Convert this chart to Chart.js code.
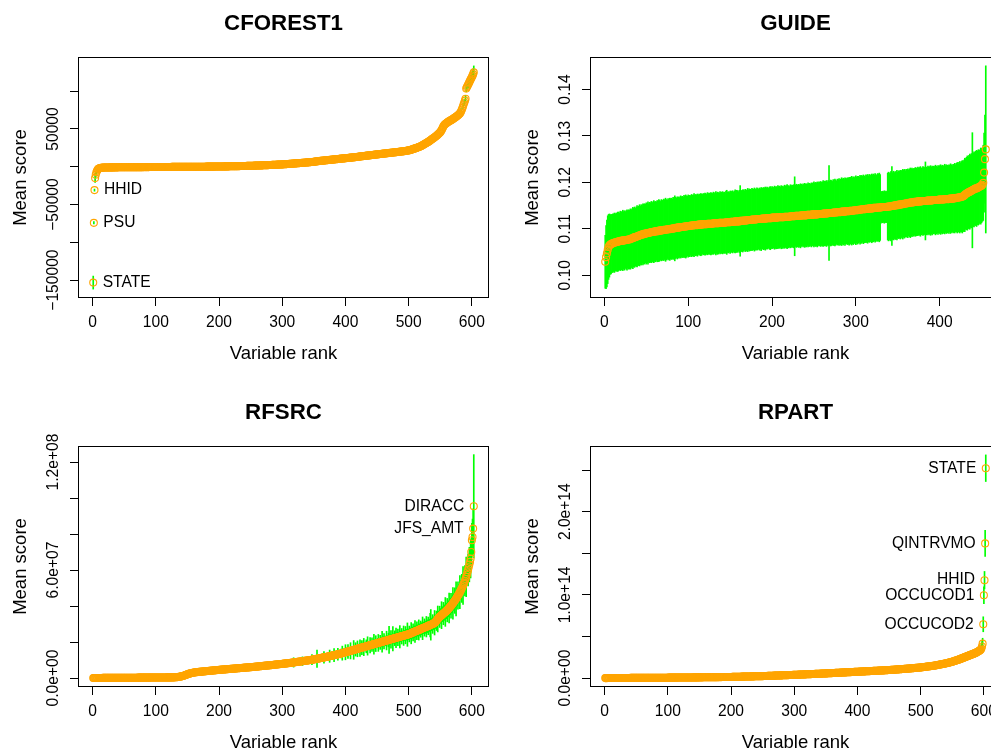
<!DOCTYPE html>
<html><head><meta charset="utf-8">
<script src="https://cdn.jsdelivr.net/npm/chart.js@4.4.1/dist/chart.umd.min.js"></script>
<style>
html,body{margin:0;padding:0;background:#fff;overflow:hidden;width:991px;height:750px;position:relative;}
canvas{position:absolute;}
</style></head><body>
<canvas id="c1" width="495" height="375" style="left:0;top:0"></canvas>
<canvas id="c2" width="495" height="375" style="left:512px;top:0"></canvas>
<canvas id="c3" width="495" height="375" style="left:0;top:389px"></canvas>
<canvas id="c4" width="495" height="375" style="left:512px;top:389px"></canvas>
<script>
// ---------------- DATA ----------------
// CFOREST1: mean score by variable rank (values in thousands)
const cforestMean = [
-153.3,-74.2,-30.9,-15,-10.6,-7.4,-5.3,-3.9,-2.8,-2.3,
-1.9,-1.65,-1.42,-1.31,-1.22,-1.16,-1.09,-1.05,-1.01,-.98,
-.96,-.95,-.93,-.91,-.89,-.88,-.87,-.86,-.84,-.83,
-.83,-.81,-.81,-.79,-.78,-.77,-.77,-.75,-.75,-.74,
-.73,-.72,-.72,-.71,-.7,-.69,-.68,-.68,-.67,-.66,
-.66,-.65,-.64,-.63,-.63,-.62,-.61,-.61,-.6,-.59,
-.58,-.58,-.57,-.56,-.56,-.55,-.54,-.54,-.53,-.52,
-.52,-.51,-.5,-.5,-.49,-.49,-.48,-.47,-.47,-.46,
-.46,-.45,-.44,-.44,-.43,-.43,-.42,-.41,-.41,-.4,
-.4,-.39,-.39,-.38,-.37,-.37,-.36,-.36,-.35,-.35,
-.34,-.34,-.33,-.32,-.32,-.31,-.31,-.3,-.3,-.29,
-.28,-.28,-.27,-.27,-.26,-.26,-.25,-.24,-.24,-.23,
-.23,-.22,-.22,-.21,-.2,-.2,-.19,-.19,-.18,-.18,
-.17,-.16,-.16,-.15,-.15,-.14,-.14,-.13,-.12,-.12,
-.11,-.11,-.1,-.1,-.09,-.08,-.08,-.07,-.07,-.06,
-.06,-.05,-.04,-.04,-.03,-.03,-.02,-.02,-.01,0,
.01,.01,.02,.02,.03,.04,.04,.05,.05,.06,
.07,.07,.08,.09,.09,.1,.11,.12,.12,.13,
.14,.15,.16,.17,.17,.18,.19,.2,.21,.22,
.23,.24,.25,.26,.27,.28,.29,.3,.31,.32,
.33,.35,.36,.38,.39,.41,.42,.44,.46,.47,
.49,.51,.52,.54,.56,.58,.6,.61,.63,.65,
.67,.69,.71,.73,.75,.77,.79,.81,.83,.85,
.87,.89,.91,.93,.95,.97,.99,1.01,1.03,1.05,
1.08,1.1,1.12,1.15,1.17,1.2,1.22,1.25,1.27,1.3,
1.33,1.36,1.39,1.42,1.45,1.48,1.51,1.54,1.57,1.6,
1.63,1.66,1.7,1.73,1.76,1.8,1.83,1.86,1.9,1.93,
1.97,2,2.04,2.07,2.11,2.15,2.18,2.22,2.26,2.3,
2.33,2.37,2.41,2.45,2.49,2.53,2.57,2.61,2.65,2.7,
2.74,2.78,2.82,2.87,2.91,2.95,3,3.04,3.09,3.13,
3.18,3.24,3.3,3.36,3.42,3.48,3.54,3.6,3.66,3.72,
3.79,3.85,3.91,3.98,4.04,4.11,4.17,4.24,4.3,4.37,
4.44,4.5,4.57,4.64,4.71,4.78,4.85,4.92,4.99,5.06,
5.13,5.2,5.28,5.35,5.42,5.5,5.57,5.64,5.72,5.79,
5.87,5.94,6.02,6.1,6.17,6.25,6.33,6.41,6.48,6.56,
6.7,6.85,7,7.12,7.25,7.35,7.45,7.55,7.65,7.75,
7.84,7.93,8.02,8.11,8.2,8.29,8.38,8.47,8.56,8.65,
8.74,8.83,8.92,9.01,9.1,9.19,9.28,9.37,9.46,9.55,
9.64,9.73,9.82,9.91,10,10.09,10.18,10.27,10.36,10.45,
10.54,10.63,10.72,10.81,10.9,10.99,11.08,11.17,11.26,11.35,
11.44,11.53,11.62,11.71,11.8,11.89,11.98,12.07,12.16,12.25,
12.34,12.43,12.52,12.61,12.7,12.79,12.88,12.97,13.06,13.15,
13.3,13.45,13.6,13.72,13.84,13.95,14.05,14.15,14.25,14.35,
14.45,14.55,14.65,14.75,14.85,14.95,15.05,15.15,15.25,15.35,
15.45,15.55,15.65,15.75,15.85,15.95,16.05,16.15,16.25,16.35,
16.45,16.55,16.65,16.75,16.85,16.95,17.05,17.15,17.25,17.35,
17.45,17.55,17.65,17.75,17.85,17.95,18.05,18.15,18.25,18.35,
18.45,18.55,18.65,18.75,18.85,18.95,19.05,19.15,19.25,19.35,
19.45,19.55,19.65,19.75,19.85,19.95,20.05,20.15,20.25,20.35,
20.45,20.55,20.65,20.8,20.95,21.1,21.25,21.4,21.55,21.7,
21.9,22.1,22.3,22.5,22.8,23.1,23.4,23.7,24,24.3,
24.6,24.9,25.2,25.5,25.8,26.1,26.4,26.7,27.1,27.5,
28,28.5,29,29.5,30,30.5,31,31.5,32,32.5,
33,33.6,34.2,34.8,35.4,36,36.6,37.2,37.8,38.4,
39,39.7,40.4,41.1,41.8,42.5,43.3,44.1,44.9,45.8,
47,48.5,50,51.8,53.5,54.8,55.8,56.6,57.3,57.9,
58.5,59.1,59.7,60.2,60.7,61.2,61.7,62.2,62.7,63.2,
63.8,64.4,65,65.6,66.2,66.8,67.5,68.2,68.9,69.7,
70.6,71.8,73.5,75.5,77.8,80.2,82.6,85,87.5,90,
103.5,105.2,106.9,108.6,110.3,112,113.7,115.4,117.1,118.8,
120.6,122.6,125];
const cforestErrRanks  = [1,2,3,4,5,6,7,8,555,570,580,583,586,588,590,591,592,594,595,597,598,600,601,602,603];
const cforestErrValues = [8.6,1.6,1.4,5.8,3.5,2.5,2,1.5,3,2.5,3,3.5,3.5,4,4.5,4,4,4.5,5,5,5.5,6,6.5,7,8.5];
const cforestLabelRanks = [1,2,3];
const cforestLabelNames = ['STATE','PSU','HHID'];

// GUIDE: mean score by variable rank
const guideMean = [
.1029,.1039,.1047,.1055,.1061,.1064,.1066,.1067,.1068,.1069,
.1070,.1070,.1071,.1071,.1072,.1072,.1073,.1073,.1074,.1074,
.1074,.1075,.1075,.1075,.1076,.1076,.1076,.1077,.1077,.1077,
.1078,.1079,.1079,.1080,.1081,.1082,.1082,.1083,.1084,.1084,
.1085,.1086,.1086,.1087,.1088,.1088,.1089,.1089,.1090,.1090,
.1091,.1091,.1091,.1092,.1092,.1093,.1093,.1093,.1094,.1094,
.1094,.1095,.1095,.1095,.1096,.1096,.1096,.1097,.1097,.1097,
.1098,.1098,.1098,.1098,.1099,.1099,.1099,.1099,.1100,.1100,
.1100,.1101,.1101,.1101,.1102,.1102,.1102,.1103,.1103,.1103,
.1104,.1104,.1104,.1104,.1105,.1105,.1105,.1105,.1106,.1106,
.1106,.1106,.1107,.1107,.1107,.1107,.1108,.1108,.1108,.1108,
.1108,.1109,.1109,.1109,.1109,.1109,.1110,.1110,.1110,.1110,
.1110,.1110,.1111,.1111,.1111,.1111,.1111,.1111,.1111,.1112,
.1112,.1112,.1112,.1112,.1112,.1112,.1113,.1113,.1113,.1113,
.1113,.1113,.1113,.1113,.1114,.1114,.1114,.1114,.1114,.1114,
.1115,.1115,.1115,.1115,.1115,.1116,.1116,.1116,.1116,.1116,
.1116,.1117,.1117,.1117,.1117,.1118,.1118,.1118,.1118,.1118,
.1119,.1119,.1119,.1119,.1119,.1120,.1120,.1120,.1120,.1120,
.1120,.1121,.1121,.1121,.1121,.1121,.1121,.1122,.1122,.1122,
.1122,.1122,.1122,.1123,.1123,.1123,.1123,.1123,.1123,.1124,
.1124,.1124,.1124,.1124,.1124,.1124,.1125,.1125,.1125,.1125,
.1125,.1125,.1125,.1125,.1126,.1126,.1126,.1126,.1126,.1126,
.1126,.1127,.1127,.1127,.1127,.1127,.1127,.1128,.1128,.1128,
.1128,.1128,.1128,.1128,.1129,.1129,.1129,.1129,.1129,.1129,
.1129,.1130,.1130,.1130,.1130,.1130,.1130,.1131,.1131,.1131,
.1131,.1131,.1131,.1131,.1132,.1132,.1132,.1132,.1132,.1132,
.1133,.1133,.1133,.1133,.1133,.1133,.1134,.1134,.1134,.1134,
.1134,.1134,.1135,.1135,.1135,.1135,.1135,.1136,.1136,.1136,
.1136,.1136,.1137,.1137,.1137,.1137,.1137,.1138,.1138,.1138,
.1138,.1138,.1139,.1139,.1139,.1139,.1139,.1140,.1140,.1140,
.1140,.1140,.1141,.1141,.1141,.1141,.1142,.1142,.1142,.1142,
.1142,.1143,.1143,.1143,.1143,.1144,.1144,.1144,.1144,.1144,
.1145,.1145,.1145,.1145,.1145,.1146,.1146,.1146,.1146,.1146,
.1147,.1147,.1147,.1147,.1147,.1147,.1147,.1148,.1148,.1148,
.1148,.1149,.1149,.1149,.1150,.1150,.1150,.1151,.1151,.1151,
.1152,.1152,.1152,.1153,.1153,.1153,.1154,.1154,.1154,.1155,
.1155,.1155,.1156,.1156,.1156,.1157,.1157,.1157,.1157,.1158,
.1158,.1158,.1158,.1159,.1159,.1159,.1159,.1159,.1160,.1160,
.1160,.1160,.1160,.1160,.1161,.1161,.1161,.1161,.1161,.1161,
.1161,.1162,.1162,.1162,.1162,.1162,.1162,.1162,.1163,.1163,
.1163,.1163,.1163,.1163,.1163,.1164,.1164,.1164,.1164,.1164,
.1164,.1165,.1165,.1165,.1165,.1165,.1166,.1166,.1166,.1167,
.1167,.1167,.1168,.1168,.1168,.1169,.1169,.1170,.1171,.1173,
.1175,.1176,.1177,.1178,.1179,.1180,.1181,.1182,.1183,.1184,
.1185,.1186,.1187,.1187,.1188,.1189,.1190,.1191,.1192,.1193,
.1195,.1199,.1221,.1250,.1271];
const guideErr = [
.0057,.0068,.0072,.0073,.0070,.0068,.0064,.0064,.0062,.0063,
.0062,.0064,.0061,.0063,.0062,.0064,.0063,.0061,.0064,.0062,
.0063,.0065,.0062,.0064,.0061,.0063,.0065,.0062,.0064,.0063,
.0065,.0062,.0064,.0066,.0063,.0065,.0062,.0064,.0066,.0063,
.0064,.0066,.0063,.0065,.0062,.0066,.0064,.0065,.0063,.0066,
.0064,.0067,.0063,.0065,.0064,.0066,.0063,.0065,.0067,.0064,
.0065,.0063,.0066,.0064,.0067,.0065,.0063,.0066,.0064,.0065,
.0066,.0064,.0068,.0065,.0063,.0066,.0064,.0067,.0065,.0066,
.0064,.0067,.0065,.0070,.0066,.0064,.0067,.0065,.0066,.0064,
.0067,.0065,.0066,.0064,.0067,.0065,.0068,.0066,.0064,.0067,
.0065,.0066,.0064,.0067,.0065,.0066,.0068,.0064,.0066,.0065,
.0067,.0064,.0066,.0065,.0067,.0066,.0064,.0066,.0065,.0067,
.0066,.0064,.0067,.0065,.0066,.0064,.0067,.0066,.0065,.0067,
.0064,.0066,.0068,.0065,.0067,.0066,.0064,.0067,.0065,.0066,
.0067,.0065,.0066,.0064,.0067,.0069,.0065,.0066,.0064,.0067,
.0066,.0065,.0067,.0064,.0066,.0068,.0065,.0067,.0066,.0064,
.0067,.0076,.0066,.0065,.0067,.0066,.0064,.0067,.0065,.0066,
.0068,.0065,.0067,.0066,.0064,.0067,.0066,.0065,.0068,.0066,
.0065,.0067,.0066,.0064,.0067,.0065,.0068,.0066,.0065,.0067,
.0066,.0068,.0065,.0067,.0066,.0064,.0067,.0068,.0065,.0067,
.0066,.0065,.0068,.0066,.0067,.0065,.0068,.0066,.0067,.0065,
.0068,.0066,.0067,.0065,.0068,.0066,.0067,.0069,.0066,.0067,
.0065,.0068,.0066,.0067,.0065,.0068,.0085,.0066,.0068,.0067,
.0065,.0068,.0066,.0069,.0067,.0065,.0068,.0066,.0069,.0067,
.0068,.0066,.0069,.0067,.0068,.0066,.0069,.0067,.0068,.0070,
.0067,.0069,.0068,.0070,.0067,.0069,.0068,.0070,.0068,.0069,
.0071,.0068,.0070,.0069,.0071,.0068,.0070,.0102,.0069,.0071,
.0070,.0068,.0071,.0069,.0072,.0070,.0068,.0071,.0070,.0072,
.0069,.0071,.0073,.0070,.0072,.0069,.0073,.0071,.0070,.0072,
.0071,.0073,.0070,.0072,.0074,.0071,.0073,.0070,.0072,.0074,
.0071,.0073,.0072,.0070,.0074,.0072,.0073,.0071,.0074,.0072,
.0070,.0073,.0072,.0074,.0071,.0073,.0072,.0070,.0074,.0072,
.0073,.0071,.0074,.0072,.0070,.0073,.0072,.0074,.0071,.0034,
.0033,.0034,.0033,.0035,.0033,.0034,.0033,.0072,.0074,.0071,
.0073,.0075,.0085,.0072,.0074,.0071,.0073,.0072,.0075,.0071,
.0073,.0072,.0074,.0071,.0073,.0075,.0072,.0074,.0071,.0073,
.0072,.0074,.0071,.0073,.0075,.0072,.0074,.0071,.0073,.0072,
.0074,.0073,.0071,.0074,.0072,.0073,.0075,.0072,.0071,.0074,
.0073,.0072,.0084,.0073,.0071,.0074,.0072,.0073,.0075,.0072,
.0074,.0071,.0073,.0072,.0075,.0073,.0071,.0074,.0072,.0073,
.0075,.0072,.0074,.0071,.0073,.0075,.0072,.0074,.0073,.0071,
.0074,.0072,.0075,.0073,.0071,.0074,.0073,.0075,.0072,.0074,
.0076,.0073,.0075,.0077,.0074,.0076,.0078,.0075,.0077,.0079,
.0076,.0078,.0080,.0077,.0079,.0081,.0078,.0080,.0124,.0079,
.0081,.0078,.0080,.0082,.0079,.0081,.0080,.0078,.0082,.0080,
.0079,.0081,.0085,.0095,.0180];

// RFSRC: mean score by variable rank (values in millions)
const rfsrcMean = [
.01,.01,.01,.02,.02,.02,.02,.03,.03,.03,
.03,.04,.04,.04,.04,.05,.05,.05,.05,.06,
.06,.06,.06,.07,.07,.07,.07,.08,.08,.08,
.08,.09,.09,.09,.09,.1,.1,.1,.1,.11,
.11,.11,.11,.12,.12,.12,.12,.13,.13,.13,
.13,.14,.14,.14,.14,.15,.15,.15,.15,.16,
.16,.16,.16,.17,.17,.17,.17,.18,.18,.18,
.18,.19,.19,.19,.19,.2,.2,.2,.2,.21,
.21,.21,.21,.22,.22,.22,.22,.23,.23,.23,
.23,.24,.24,.24,.24,.25,.25,.25,.25,.26,
.26,.26,.27,.27,.27,.28,.28,.28,.29,.29,
.29,.3,.3,.3,.31,.31,.31,.32,.32,.32,
.33,.33,.33,.34,.34,.34,.35,.35,.35,.36,
.38,.42,.46,.5,.55,.6,.66,.72,.8,.88,
.96,1.05,1.15,1.26,1.38,1.5,1.63,1.76,1.9,2.04,
2.18,2.3,2.42,2.53,2.63,2.72,2.8,2.88,2.95,3.02,
3.08,3.13,3.18,3.22,3.26,3.3,3.34,3.38,3.42,3.46,
3.5,3.53,3.57,3.6,3.64,3.67,3.71,3.74,3.78,3.81,
3.85,3.88,3.92,3.95,3.99,4.02,4.06,4.09,4.13,4.16,
4.2,4.23,4.27,4.3,4.34,4.37,4.41,4.44,4.48,4.51,
4.54,4.57,4.6,4.63,4.66,4.69,4.72,4.75,4.78,4.81,
4.84,4.87,4.9,4.93,4.96,4.99,5.02,5.05,5.08,5.11,
5.14,5.17,5.2,5.23,5.26,5.29,5.32,5.35,5.38,5.41,
5.44,5.47,5.5,5.53,5.56,5.59,5.62,5.65,5.68,5.71,
5.74,5.77,5.8,5.83,5.86,5.89,5.92,5.95,5.98,6.01,
6.04,6.08,6.11,6.15,6.18,6.22,6.25,6.29,6.32,6.36,
6.39,6.43,6.46,6.5,6.53,6.57,6.6,6.64,6.67,6.71,
6.74,6.78,6.81,6.85,6.88,6.92,6.95,6.99,7.02,7.06,
7.1,7.14,7.18,7.22,7.26,7.3,7.34,7.38,7.42,7.46,
7.5,7.54,7.58,7.62,7.66,7.7,7.74,7.78,7.82,7.86,
7.9,7.94,7.98,8.02,8.06,8.1,8.14,8.18,8.22,8.26,
8.3,8.35,8.4,8.45,8.5,8.55,8.6,8.65,8.7,8.75,
8.8,8.85,8.9,8.95,9,9.05,9.1,9.15,9.2,9.25,
9.3,9.35,9.4,9.45,9.5,9.55,9.6,9.65,9.7,9.75,
9.8,9.86,9.92,9.98,10.04,10.1,10.16,10.22,10.28,10.34,
10.4,10.47,10.54,10.61,10.68,10.75,10.82,10.89,10.96,11.03,
11.1,11.17,11.24,11.31,11.38,11.45,11.52,11.59,11.66,11.73,
11.8,11.88,11.96,12.04,12.12,12.2,12.28,12.36,12.44,12.52,
12.6,12.68,12.76,12.84,12.92,13,13.08,13.16,13.24,13.32,
13.4,13.5,13.6,13.7,13.8,13.9,14,14.1,14.2,14.3,
14.4,14.5,14.6,14.7,14.8,14.9,15,15.1,15.2,15.3,
15.4,15.5,15.6,15.7,15.8,15.9,16,16.1,16.2,16.3,
16.4,16.5,16.6,16.7,16.8,16.9,17,17.1,17.2,17.3,
17.4,17.5,17.6,17.7,17.8,17.9,18,18.1,18.2,18.3,
18.4,18.5,18.6,18.7,18.8,18.9,19,19.1,19.2,19.3,
19.4,19.5,19.6,19.7,19.8,19.9,20,20.1,20.2,20.3,
20.4,20.5,20.6,20.7,20.8,20.9,21,21.1,21.2,21.3,
21.4,21.5,21.6,21.7,21.8,21.9,22,22.1,22.2,22.3,
22.4,22.5,22.6,22.7,22.8,22.9,23,23.1,23.2,23.3,
23.4,23.5,23.6,23.7,23.8,23.9,24,24.1,24.2,24.3,
24.45,24.6,24.75,24.9,25.05,25.2,25.35,25.5,25.65,25.8,
25.95,26.1,26.25,26.4,26.55,26.7,26.85,27,27.15,27.3,
27.45,27.6,27.75,27.9,28.05,28.2,28.35,28.5,28.65,28.8,
28.95,29.1,29.25,29.4,29.55,29.7,29.85,30,30.2,30.4,
30.7,31,31.4,31.8,32.3,32.8,33.2,33.6,34,34.3,
34.6,34.9,35.2,35.5,35.8,36.1,36.4,36.7,37,37.3,
37.7,38.1,38.5,38.9,39.3,39.7,40.1,40.5,41,41.5,
42,42.5,43,43.5,44,44.6,45.2,45.8,46.4,47,
47.7,48.4,49.1,49.8,50.6,51.4,52.2,53,54,55,
56.2,57.4,58.7,60,61.5,63,64.5,66.3,70,76.5,
78.3,83,95.4];
const rfsrcErrFirstRank = 241;
const rfsrcErr = [
.4,.5,.3,.6,.4,.5,.3,.4,.6,.5,
1.8,.5,.4,.6,.5,.3,.7,.5,.4,.6,
.5,.6,.4,.7,.5,.6,.4,.5,.7,.6,
.5,.7,.6,.4,.8,.6,.5,.7,.6,.8,
.6,.7,.5,.8,.6,.9,.7,.6,.8,.7,
.9,.7,.8,.6,.9,.7,.8,1,.7,.9,
.8,1,.7,.9,1.1,.8,1,.9,1.2,.8,
1,1.2,.9,1.1,1.3,.9,1.1,2.6,1,1.2,
1.1,1.3,1,1.2,1.4,1.1,1.3,1.2,1.5,1.1,
1.3,2.4,1.2,1.4,1.3,1.6,1.2,1.4,1.7,1.3,
1.5,1.4,1.7,1.3,1.6,1.5,2.8,1.4,1.6,1.9,
1.5,1.7,1.6,1.9,4.8,1.7,1.8,1.6,2,1.7,
1.9,1.8,2.1,1.7,2,3.2,1.6,1.8,2.1,1.5,
1.7,1.9,2.2,1.6,3.4,1.8,1.6,2,2.2,1.7,
1.9,3.6,1.7,2,1.8,2.1,1.6,3.3,1.9,1.7,
2.1,1.8,2.4,1.6,3.9,1.9,1.7,2.2,1.8,4.2,
2,1.8,2.3,3.8,1.9,2.1,1.7,4.5,2,1.8,
2.2,2,5.2,1.9,2.3,3.7,2,1.8,4.4,2.1,
1.9,2.4,4.6,2,2.2,3.9,1.9,2.3,4.8,2.1,
2,2.5,3.6,2.2,5.1,2,2.4,2.1,4.2,2.3,
2.1,3.8,2.4,2,5.5,2.2,2.5,4.4,2.3,2.1,
2.6,4.7,2.3,2.2,3.9,2.5,2.4,5.8,2.2,2.6,
4.3,2.4,2.7,2.3,5.2,2.5,2.3,3.8,7.5,2.4,
2.6,4.9,2.5,2.3,6.8,2.6,2.4,4.1,2.7,5.5,
2.5,2.8,4.6,2.4,2.6,6.2,2.5,2.9,4.3,2.6,
2.7,5.4,2.5,2.8,4.8,2.6,3,6.5,2.7,2.9,
4.4,2.8,3,5.9,2.7,3.1,4.7,2.9,3.2,6.1,
2.8,3,4.9,3.1,2.9,5.6,3.2,3,4.5,3.3,
3.1,6.3,3,3.2,4.8,3.4,3.1,5.7,3.3,3.5,
4.9,3.2,3.4,6.6,8.5,3.3,3.5,5.2,3.4,3.6,
6.8,3.5,3.7,5.4,3.6,7.2,3.8,3.6,5.9,3.9,
4,7.5,3.8,4.1,6.2,3.9,4.2,8,4,4.3,
6.5,4.1,4.4,8.3,4.2,4.5,6.9,4.3,4.6,8.8,
4.4,4.7,7.1,4.5,9.5,4.6,4.9,7.6,4.7,5,
9.2,4.8,5.1,7.8,4.9,10.5,5.2,5,8.4,5.3,
11,5.4,5.6,8.9,5.5,9.6,6,10.7,7.5,9.5,
10,11,28.7];
const rfsrcLabelRanks = [602,603];
const rfsrcLabelNames = ['JFS_AMT','DIRACC'];

// RPART: mean score by variable rank (values in units of 1e12)
const rpartMean = [
.01,.01,.02,.02,.03,.03,.04,.04,.05,.05,.06,.06,.07,.07,.08,.08,.09,.09,.1,.1,
.11,.11,.12,.12,.13,.13,.14,.14,.15,.15,.16,.16,.17,.17,.18,.18,.19,.19,.2,.2,
.21,.21,.22,.22,.23,.23,.24,.24,.25,.25,.26,.26,.27,.27,.28,.28,.29,.29,.3,.3,
.31,.31,.32,.32,.33,.33,.34,.34,.35,.35,.36,.36,.37,.37,.38,.38,.39,.39,.4,.4,
.4,.41,.41,.42,.42,.43,.43,.44,.44,.45,.45,.46,.46,.47,.47,.48,.48,.49,.49,.5,
.51,.52,.52,.53,.54,.55,.55,.56,.57,.58,.58,.59,.6,.61,.61,.62,.63,.64,.64,.65,
.66,.67,.67,.68,.69,.7,.7,.71,.72,.73,.73,.74,.75,.76,.76,.77,.78,.79,.79,.8,
.81,.82,.82,.83,.84,.85,.85,.86,.87,.88,
.89,.9,.91,.92,.93,.94,.95,.96,.97,.98,.99,1,1.01,1.02,1.03,1.04,1.05,1.06,1.07,1.08,
1.09,1.1,1.11,1.12,1.13,1.14,1.15,1.16,1.17,1.18,1.19,1.2,1.21,1.22,1.23,1.24,1.25,1.26,1.27,1.28,
1.29,1.3,1.31,1.32,1.33,1.34,1.35,1.36,1.37,1.38,
1.4,1.42,1.44,1.46,1.48,1.5,1.52,1.54,1.56,1.58,1.6,1.62,1.64,1.66,1.68,1.7,1.72,1.74,1.76,1.78,
1.8,1.82,1.84,1.86,1.88,1.9,1.92,1.94,1.96,1.98,2,2.02,2.04,2.06,2.08,2.1,2.12,2.14,2.16,2.18,
2.2,2.22,2.24,2.26,2.28,2.3,2.32,2.34,2.36,2.38,
2.41,2.44,2.47,2.5,2.53,2.56,2.59,2.62,2.65,2.68,2.71,2.74,2.77,2.8,2.83,2.86,2.89,2.92,2.95,2.98,
3.01,3.04,3.07,3.1,3.13,3.16,3.19,3.22,3.25,3.28,3.31,3.34,3.37,3.4,3.43,3.46,3.49,3.52,3.55,3.58,
3.61,3.64,3.67,3.7,3.73,3.76,3.79,3.82,3.85,3.88,
3.91,3.95,3.98,4.02,4.05,4.09,4.12,4.16,4.19,4.23,4.26,4.3,4.33,4.37,4.4,4.44,4.47,4.51,4.54,4.58,
4.61,4.65,4.68,4.72,4.75,4.79,4.82,4.86,4.89,4.93,4.96,5,5.03,5.07,5.1,5.14,5.17,5.21,5.24,5.28,
5.31,5.35,5.38,5.42,5.45,5.49,5.52,5.56,5.59,5.63,
5.67,5.71,5.75,5.79,5.83,5.87,5.91,5.95,5.99,6.03,6.07,6.11,6.15,6.19,6.23,6.27,6.31,6.35,6.39,6.43,
6.47,6.51,6.55,6.59,6.63,6.67,6.71,6.75,6.79,6.83,6.87,6.91,6.95,6.99,7.03,7.07,7.11,7.15,7.19,7.23,
7.27,7.31,7.35,7.39,7.43,7.47,7.51,7.55,7.59,7.63,
7.67,7.71,7.75,7.79,7.83,7.87,7.91,7.95,7.99,8.03,8.07,8.11,8.15,8.19,8.23,8.27,8.31,8.35,8.39,8.43,
8.47,8.51,8.55,8.59,8.63,8.67,8.71,8.75,8.79,8.83,8.87,8.91,8.95,8.99,9.03,9.07,9.11,9.15,9.19,9.23,
9.27,9.31,9.35,9.4,9.45,9.5,9.55,9.6,9.65,9.7,
9.75,9.8,9.85,9.9,9.95,10,10.05,10.1,10.15,10.2,10.26,10.32,10.38,10.44,10.5,10.56,10.62,10.68,10.74,10.8,
10.86,10.92,10.98,11.04,11.1,11.16,11.22,11.28,11.34,11.4,11.47,11.54,11.61,11.68,11.75,11.82,11.89,11.96,12.03,12.1,
12.17,12.24,12.31,12.38,12.45,12.52,12.59,12.66,12.73,12.8,
12.9,13,13.1,13.2,13.3,13.4,13.5,13.6,13.7,13.8,13.9,14,14.1,14.2,14.3,14.4,14.5,14.6,14.7,14.8,
14.9,15,15.15,15.3,15.45,15.6,15.75,15.9,16.05,16.2,16.35,16.5,16.65,16.8,16.95,17.1,17.25,17.4,17.55,17.7,
17.9,18.1,18.3,18.5,18.7,18.9,19.1,19.3,19.5,19.7,
19.95,20.2,20.45,20.7,20.95,21.2,21.45,21.7,21.95,22.2,22.5,22.8,23.1,23.4,23.7,24,24.3,24.6,24.9,25.2,
25.5,25.8,26.1,26.4,26.7,27,27.3,27.6,27.9,28.2,
28.5,28.8,29.1,29.4,29.7,30,30.4,30.8,31.2,31.6,32,32.5,33,33.5,34,35.5,38,41.4,
64.7,99.6,117.7,161.9,252.3];
const rpartErrRanks  = [560,570,580,585,590,594,596,597,598,599,600,601,602,603];
const rpartErrValues = [3,3.5,4,4.5,5,5,5.5,6,6.5,9,10,10.5,15.7,16];
const rpartLabelRanks = [599,600,601,602,603];
const rpartLabelNames = ['OCCUCOD2','OCCUCOD1','HHID','QINTRVMO','STATE'];

// Axis ticks and their labels
const rankTicksLong  = [0,100,200,300,400,500,600];
const rankTicksShort = [0,100,200,300,400];
const cforestYTicks = [-150,-100,-50,0,50,100];
const cforestYText  = ['\u2212150000','','\u221250000','','50000',''];
const guideYTicks = [0.10,0.11,0.12,0.13,0.14];
const guideYText  = ['0.10','0.11','0.12','0.13','0.14'];
const rfsrcYTicks = [0,20,40,60,80,100,120];
const rfsrcYText  = ['0.0e+00','','','6.0e+07','','','1.2e+08'];
const rpartYTicks = [0,50,100,150,200,250];
const rpartYText  = ['0.0e+00','','1.0e+14','','2.0e+14',''];

// ---------------- RENDERING ----------------
const FONT = '"Liberation Sans", Arial, Helvetica, sans-serif';
Chart.defaults.font.family = FONT;
Chart.defaults.color = '#000';

const panels = {
  c1: {title:'CFOREST1', mean:cforestMean, errRanks:cforestErrRanks, errValues:cforestErrValues,
       xMin:-23.08, xMax:627.08, yMin:-173.7, yMax:145.3, xTicks:rankTicksLong,
       yTicks:cforestYTicks, yText:cforestYText, lRanks:cforestLabelRanks, lNames:cforestLabelNames, lSide:'right'},
  c2: {title:'GUIDE', mean:guideMean, errRanks:guideErr.map((e,i)=>i+1), errValues:guideErr,
       xMin:-17.16, xMax:473.16, yMin:0.0951, yMax:0.1470, xTicks:rankTicksShort,
       yTicks:guideYTicks, yText:guideYText, lRanks:[], lNames:[], lSide:'left'},
  c3: {title:'RFSRC', mean:rfsrcMean, errRanks:rfsrcErr.map((e,i)=>i+rfsrcErrFirstRank), errValues:rfsrcErr,
       xMin:-23.08, xMax:627.08, yMin:-5, yMax:128.9, xTicks:rankTicksLong,
       yTicks:rfsrcYTicks, yText:rfsrcYText, lRanks:rfsrcLabelRanks, lNames:rfsrcLabelNames, lSide:'left'},
  c4: {title:'RPART', mean:rpartMean, errRanks:rpartErrRanks, errValues:rpartErrValues,
       xMin:-23.08, xMax:627.08, yMin:-10.7, yMax:279, xTicks:rankTicksLong,
       yTicks:rpartYTicks, yText:rpartYText, lRanks:rpartLabelRanks, lNames:rpartLabelNames, lSide:'left'}
};

const rPlugin = {
  id: 'rstyle',
  afterDraw(chart) {
    const p = panels[chart.canvas.id];
    const {ctx, chartArea: a} = chart;
    const xs = chart.scales.x, ys = chart.scales.y;
    ctx.save();
    ctx.strokeStyle = '#000'; ctx.lineWidth = 1;
    ctx.strokeRect(Math.round(a.left) + 0.5, Math.round(a.top) + 0.5,
                   Math.round(a.right - a.left) - 1, Math.round(a.bottom - a.top) - 1);
    ctx.fillStyle = '#000';
    ctx.font = '15.6px ' + FONT;
    ctx.textAlign = 'center'; ctx.textBaseline = 'middle';
    p.yTicks.forEach((v, i) => {
      const t = p.yText[i]; if (!t) return;
      ctx.save(); ctx.translate(a.left - 24.5, ys.getPixelForValue(v)); ctx.rotate(-Math.PI / 2);
      ctx.fillText(t, 0, 0); ctx.restore();
    });
    ctx.font = 'bold 22.3px ' + FONT;
    ctx.fillText(p.title, (a.left + a.right) / 2, a.top - 33);
    ctx.font = '18.5px ' + FONT;
    ctx.fillText('Variable rank', (a.left + a.right) / 2, a.bottom + 55.5);
    ctx.save(); ctx.translate(a.left - 57.5, (a.top + a.bottom) / 2); ctx.rotate(-Math.PI / 2);
    ctx.fillText('Mean score', 0, 0); ctx.restore();
    ctx.font = '15.6px ' + FONT;
    ctx.textAlign = p.lSide === 'right' ? 'left' : 'right';
    p.lRanks.forEach((r, i) => {
      const px = xs.getPixelForValue(r), py = ys.getPixelForValue(p.mean[r - 1]);
      ctx.fillText(p.lNames[i], px + (p.lSide === 'right' ? 9.5 : -9.5), py);
    });
    ctx.restore();
  }
};

function build(id) {
  const p = panels[id];
  const points = p.mean.map((v, i) => ({x: i + 1, y: v}));
  const bars = [];
  p.errRanks.forEach((r, j) => {
    const m = p.mean[r - 1]; if (m === undefined) return;
    const e = p.errValues[j];
    bars.push({x: r, y: [m - e, m + e]});
  });
  const grid = {drawOnChartArea: false, drawTicks: true, tickLength: 8, color: '#000', lineWidth: 1, offset: false};
  new Chart(document.getElementById(id), {
    type: 'scatter',
    data: {datasets: [
      {type: 'scatter', data: points, order: 0, pointStyle: 'circle', pointRadius: 3.5, pointBorderWidth: 1.1,
       pointBorderColor: '#FFA500', pointBackgroundColor: 'rgba(0,0,0,0)', borderColor: '#FFA500', backgroundColor: 'rgba(0,0,0,0)'},
      {type: 'bar', data: bars, order: 1, backgroundColor: '#00FF00', borderWidth: 0, barThickness: 1}
    ]},
    options: {
      responsive: false, animation: false, events: [],
      layout: {padding: {left: 0, top: 57, right: 6, bottom: 0}},
      plugins: {legend: {display: false}, tooltip: {enabled: false}, title: {display: false}},
      scales: {
        x: {type: 'linear', min: p.xMin, max: p.xMax, offset: false,
            afterBuildTicks: s => { s.ticks = p.xTicks.map(v => ({value: v})); },
            afterFit: s => { s.height = 77; },
            grid: grid, border: {display: false},
            ticks: {font: {size: 15.6}, color: '#000', padding: 7, maxRotation: 0, minRotation: 0, callback: v => String(v)}},
        y: {type: 'linear', min: p.yMin, max: p.yMax, offset: false, beginAtZero: false,
            afterBuildTicks: s => { s.ticks = p.yTicks.map(v => ({value: v})); },
            afterFit: s => { s.width = 78; },
            grid: grid, border: {display: false},
            ticks: {display: false}}
      }
    },
    plugins: [rPlugin]
  });
}
['c1','c2','c3','c4'].forEach(build);
</script>
</body></html>
